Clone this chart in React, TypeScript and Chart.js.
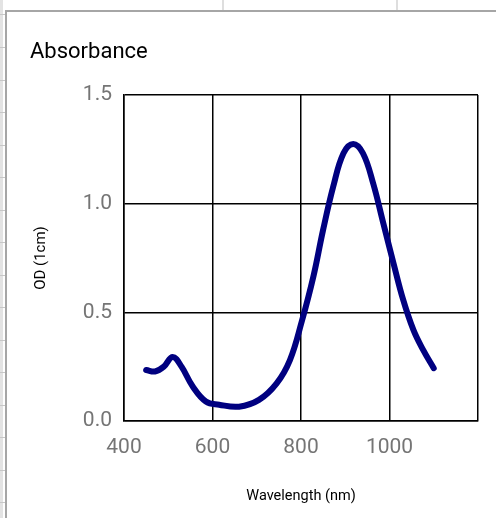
import React, { useEffect, useRef } from "react";
import { Chart, registerables } from "chart.js";

Chart.register(...registerables);

const chartTitle = "Absorbance";
const xAxisTitle = "Wavelength (nm)";
const yAxisTitle = "OD (1cm)";

const wavelengths = [450, 470, 490, 510, 530, 555, 585, 615, 660, 705, 745, 775, 802, 828, 850, 873, 896, 918, 940, 963, 986, 1009, 1031, 1054, 1076, 1100];
const odValues = [0.235, 0.228, 0.25, 0.295, 0.25, 0.16, 0.09, 0.075, 0.066, 0.097, 0.173, 0.28, 0.46, 0.665, 0.88, 1.08, 1.232, 1.275, 1.232, 1.094, 0.91, 0.726, 0.557, 0.419, 0.327, 0.243];

const xTicks = [400, 600, 800, 1000, 1200];
const yTicks = [0, 0.5, 1.0, 1.5];

const rowLines = [14, 47, 80, 112, 145, 177, 210, 242, 275, 307, 340, 372, 405, 437, 470, 502];
const colLines = [222, 396];

export default function App() {
  const ref = useRef<HTMLCanvasElement | null>(null);

  useEffect(() => {
    if (!ref.current) return;
    const font = "Roboto";
    const chart = new Chart(ref.current, {
      type: "line",
      data: {
        datasets: [
          {
            data: wavelengths.map((w, i) => ({ x: w, y: odValues[i] })),
            borderColor: "#000080",
            borderWidth: 6,
            pointRadius: 0,
            tension: 0.4,
            borderCapStyle: "round",
            borderJoinStyle: "round",
            fill: false,
          },
        ],
      },
      options: {
        responsive: false,
        animation: false,
        layout: { padding: { left: 30, right: 18, top: 0, bottom: 12.6 } },
        plugins: {
          legend: { display: false },
          tooltip: { enabled: false },
          title: {
            display: true,
            text: chartTitle,
            align: "start",
            color: "#000",
            font: { family: font, size: 22, weight: "normal" },
            padding: { top: 39, bottom: 29.6 },
          },
        },
        scales: {
          x: {
            type: "linear",
            min: xTicks[0],
            max: xTicks[xTicks.length - 1],
            afterBuildTicks: (s: any) => {
              s.ticks = xTicks.map((v) => ({ value: v }));
            },
            afterFit: (s: any) => {
              s.height = 84.4;
            },
            ticks: {
              color: "#757575",
              font: { family: font, size: 21 },
              padding: 14,
              maxRotation: 0,
              callback: (v: any) => (v === xTicks[xTicks.length - 1] ? "" : String(v)),
            },
            grid: { color: "#000", lineWidth: 1.5, drawTicks: false },
            border: { display: true, color: "#000", width: 1.5 },
            title: {
              display: true,
              text: xAxisTitle,
              color: "#000",
              font: { family: font, size: 14.5 },
              padding: { top: 0, bottom: 0 },
            },
          },
          y: {
            type: "linear",
            min: yTicks[0],
            max: yTicks[yTicks.length - 1],
            afterBuildTicks: (s: any) => {
              s.ticks = yTicks.map((v) => ({ value: v }));
            },
            afterFit: (s: any) => {
              s.width = 94;
            },
            ticks: {
              color: "#757575",
              font: { family: font, size: 21 },
              padding: 12,
              callback: (v: any) => Number(v).toFixed(1),
            },
            grid: { color: "#000", lineWidth: 1.5, drawTicks: false },
            border: { display: true, color: "#000", width: 1.5 },
            title: {
              display: true,
              text: yAxisTitle,
              color: "#000",
              font: { family: font, size: 15 },
              padding: { top: 2, bottom: 0 },
            },
          },
        },
      },
    } as any);
    return () => chart.destroy();
  }, []);

  return (
    <div
      style={{
        position: "fixed",
        left: 0,
        top: 0,
        width: 496,
        height: 518,
        background: "#fff",
        overflow: "hidden",
      }}
    >
      <div style={{ position: "absolute", left: 0, top: 0, width: 3, height: 518, background: "#e3e3e3" }} />
      {rowLines.map((y) => (
        <div key={"r" + y} style={{ position: "absolute", left: 0, top: y, width: 5, height: 1, background: "#c8c8c8" }} />
      ))}
      {colLines.map((x) => (
        <div key={"c" + x} style={{ position: "absolute", left: x, top: 0, width: 2, height: 10, background: "#dedede" }} />
      ))}
      <div
        style={{
          position: "absolute",
          left: 5,
          top: 10,
          width: 491,
          height: 508,
          borderLeft: "2px solid #a6a6a6",
          borderTop: "2px solid #a6a6a6",
          background: "#fff",
          boxSizing: "border-box",
        }}
      />
      <canvas
        ref={ref}
        width={496}
        height={518}
        style={{ position: "absolute", left: 0, top: 0, width: 496, height: 518 }}
      />
    </div>
  );
}
